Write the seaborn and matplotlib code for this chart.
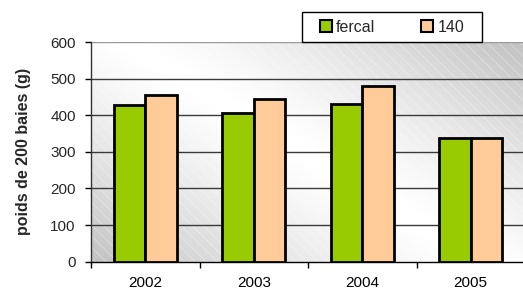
import numpy as np
import pandas as pd
import matplotlib
matplotlib.use("Agg")
import matplotlib.pyplot as plt
from matplotlib.patches import Rectangle
import seaborn as sns

# ── data ─────────────────────────────────────────────
years = ["2002", "2003", "2004", "2005"]
fercal = [427, 407, 432, 338]
v140 = [455, 443, 479, 338]
series = ["fercal", "140"]
colors = {"fercal": "#99cc00", "140": "#ffcc99"}

df = pd.DataFrame({
    "year": years * 2,
    "value": fercal + v140,
    "serie": ["fercal"] * len(years) + ["140"] * len(years),
})

sns.set_theme(style="white")
plt.rcParams["font.family"] = ["Liberation Sans", "DejaVu Sans"]
plt.rcParams["hatch.linewidth"] = 0.6
plt.rcParams["hatch.color"] = "white"

W, H = 523, 290
fig = plt.figure(figsize=(W / 100, H / 100), dpi=100, facecolor="white")
ax = fig.add_axes([91 / W, (H - 261.7) / H, 434 / W, 219.7 / H])

# diagonal gradient background (white band from top-left to bottom-right)
u, v = np.meshgrid(np.linspace(0, 1, 400), np.linspace(0, 1, 200))
px = 91 + 434 * u
py = 261.7 - 219.7 * v
d = np.array([350.0, 215.0])
d /= np.hypot(*d)
dist = np.abs((px - 130) * d[1] - (py - 45) * d[0]) / 205
shade = 1 - 0.24 * np.clip(dist, 0, 1) ** 1.3
ax.imshow(shade, cmap="gray", vmin=0, vmax=1, extent=[-0.5, 3.5, 0, 600],
          aspect="auto", origin="lower", zorder=0)
ax.add_patch(Rectangle((-0.5, 0), 4, 600, facecolor="none", edgecolor="white",
                       hatch="\\\\\\", lw=0, alpha=0.35, zorder=0.5))

for y in range(100, 600, 100):
    ax.axhline(y, color="#3a3a3a", lw=1, zorder=1)
ax.axhline(600, color="#999999", lw=1, zorder=1)

sns.barplot(data=df, x="year", y="value", hue="serie", hue_order=series,
            palette=colors, width=0.58, edgecolor="black", linewidth=2,
            saturation=1, ax=ax, zorder=3)

ax.set_xlim(-0.5, 3.5)
ax.set_ylim(0, 600)
ax.set_yticks(range(0, 700, 100))
ax.set_xticks([-0.5, 0.5, 1.5, 2.5], minor=True)
ax.tick_params(axis="x", which="major", length=0, labelsize=11, pad=10, colors="black")
ax.tick_params(axis="x", which="minor", bottom=True, length=4, width=1, color="black")
ax.tick_params(axis="y", left=True, length=4, width=1, color="black", labelsize=11, pad=7)
ax.set_xlabel("")
ax.set_ylabel("poids de 200 baies (g)", fontsize=11.5, fontweight="bold", labelpad=14)
for s in ["top", "right"]:
    ax.spines[s].set_visible(False)
ax.spines["left"].set_color("#333333")
ax.spines["bottom"].set_color("black")
for s in ["left", "bottom"]:
    ax.spines[s].set_linewidth(1)

handles, labels = ax.get_legend_handles_labels()
ax.get_legend().remove()
for h in handles:
    h.set_linewidth(1.5)

# legend box
fig.patches.append(Rectangle((302 / W, 1 - 42 / H), 180 / W, 30 / H,
                             transform=fig.transFigure, facecolor="white",
                             edgecolor="black", lw=1, zorder=5))
leg = fig.legend(handles, labels, loc="center", bbox_to_anchor=(392 / W, 1 - 27 / H),
                 ncol=2, frameon=False, fontsize=11.5, handlelength=0.75,
                 handleheight=0.75, handletextpad=0.25, columnspacing=2.9,
                 borderpad=0, borderaxespad=0)
leg.set_zorder(10)

fig.savefig("out.png", dpi=100, facecolor="white")
